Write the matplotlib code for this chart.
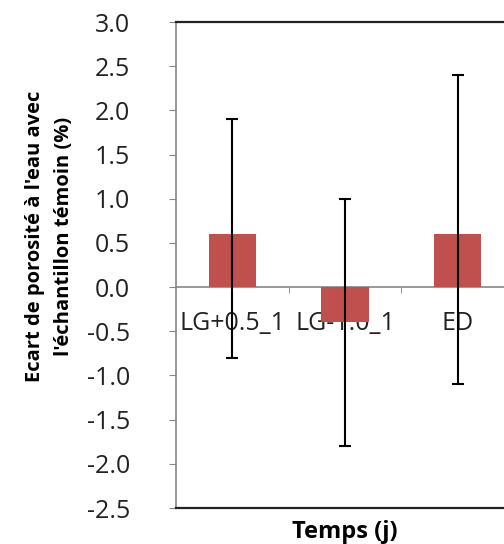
import matplotlib
matplotlib.use("Agg")
import matplotlib.pyplot as plt
import numpy as np

categories = ["LG+0.5_1", "LG-1.0_1", "ED"]
values = [0.6, -0.4, 0.6]
err_low = [1.4, 1.4, 1.7]
err_high = [1.3, 1.4, 1.8]
yticks = [-2.5, -2.0, -1.5, -1.0, -0.5, 0.0, 0.5, 1.0, 1.5, 2.0, 2.5, 3.0]

plt.rcParams['font.family'] = ['Open Sans', 'DejaVu Sans']

fig = plt.figure(figsize=(5.04, 5.44), dpi=100)
ax = fig.add_axes([176/504, 1-508/544, 338/504, 486/544])

x = np.arange(len(categories))
ax.bar(x, values, width=0.42, color="#C0504D", zorder=2)
ax.errorbar(x, values, yerr=[err_low, err_high], fmt="none", ecolor="black",
            elinewidth=1.5, capsize=4, capthick=1.5, zorder=3)

ax.set_xlim(-0.5, len(categories) - 0.5)
ax.set_ylim(-2.5, 3.0)
ax.set_yticks(yticks)
ax.set_yticklabels([f"{v:.1f}" for v in yticks])
ax.tick_params(axis='y', direction='out', length=5, color="#868686", pad=28,
               labelsize=18, labelcolor="#222222")
ax.set_xticks([])

for s in ['top', 'bottom']:
    ax.spines[s].set_color("#222222")
    ax.spines[s].set_linewidth(1.6)
ax.spines['left'].set_color("#868686")
ax.spines['left'].set_linewidth(1.2)
ax.spines['right'].set_visible(False)

sec = ax.secondary_xaxis(0, transform=ax.transData)
sec.spines['bottom'].set_color("#868686")
sec.spines['bottom'].set_linewidth(1.2)
sec.set_xticks(x)
sec.set_xticklabels(categories)
sec.set_xticks(np.arange(len(categories) - 1) + 0.5, minor=True)
sec.tick_params(axis='x', which='major', length=0, pad=17, labelsize=18, labelcolor="#222222")
sec.tick_params(axis='x', which='minor', length=4, color="#868686", direction='out')

ax.set_xlabel("Temps (j)", fontsize=17, fontweight='bold', labelpad=9)
ax.set_ylabel("Ecart de porosité à l'eau avec\nl'échantillon témoin (%)",
              fontsize=14.5, fontweight='bold', linespacing=1.6)
ax.yaxis.set_label_coords(-0.302, 0.558)

fig.savefig("out.png", dpi=100)
